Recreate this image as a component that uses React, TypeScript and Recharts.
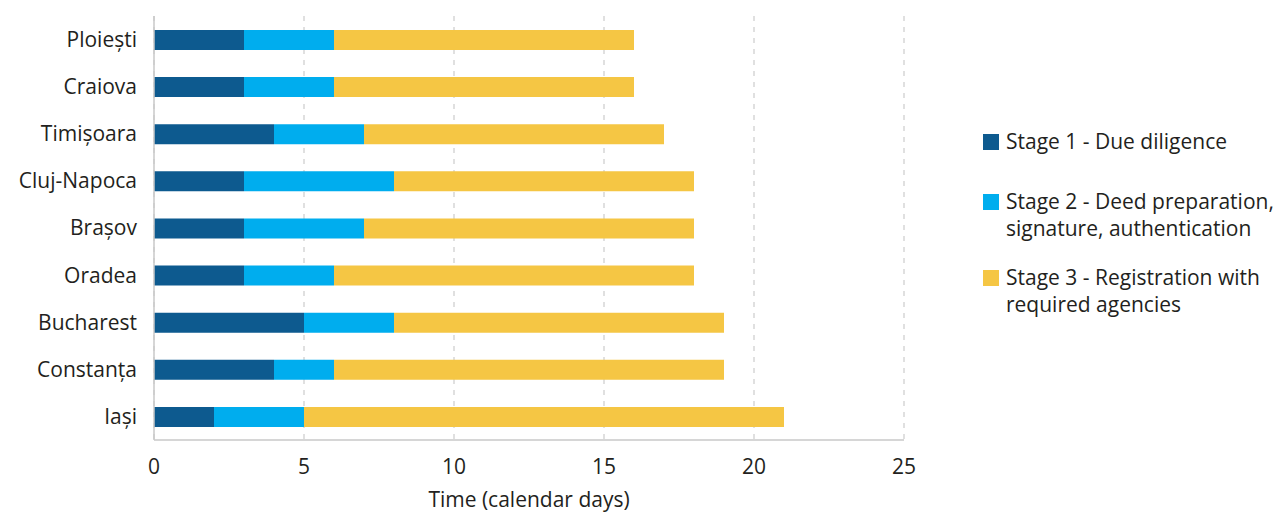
import { BarChart, Bar, XAxis, YAxis, CartesianGrid, Label } from 'recharts';

const cities = ['Ploiești', 'Craiova', 'Timișoara', 'Cluj-Napoca', 'Brașov', 'Oradea', 'Bucharest', 'Constanța', 'Iași'];
const stage1 = [3, 3, 4, 3, 3, 3, 5, 4, 2];
const stage2 = [3, 3, 3, 5, 4, 3, 3, 2, 3];
const stage3 = [10, 10, 10, 10, 11, 12, 11, 13, 16];
const xTicks = [0, 5, 10, 15, 20, 25];

const SERIES = [
    { key: 'stage1', color: '#0d5a8f', top: 128, lines: ['Stage 1 - Due diligence'] },
    { key: 'stage2', color: '#00adee', top: 188, lines: ['Stage 2 - Deed preparation,', 'signature, authentication'] },
    { key: 'stage3', color: '#f5c644', top: 264, lines: ['Stage 3 - Registration with', 'required agencies'] },
];

const FONT = '"Open Sans", "Noto Sans", sans-serif';
const TEXT = '#231f20';
const FONT_SIZE = 21;

const data = cities.map((city, i) => ({
    city,
    stage1: stage1[i],
    stage2: stage2[i],
    stage3: stage3[i],
}));

// legend sits to the right of the plot, outside the chart's layout
const StageLegend = () => (
    <>
        {SERIES.map((s) => (
            <div
                key={s.key}
                style={{
                    position: 'absolute',
                    left: 983,
                    top: s.top,
                    display: 'flex',
                    alignItems: 'flex-start',
                    fontFamily: FONT,
                    fontSize: FONT_SIZE,
                    color: TEXT,
                    lineHeight: '27px',
                }}
            >
                <div style={{ width: 16, height: 16, background: s.color, marginTop: 6, marginRight: 7, flexShrink: 0 }} />
                <div>
                    {s.lines.map((l) => (
                        <div key={l} style={{ whiteSpace: 'nowrap' }}>{l}</div>
                    ))}
                </div>
            </div>
        ))}
    </>
);

export default function App() {
    return (
        <div style={{ position: 'absolute', left: 0, top: 0, width: 1282, height: 512 }}>
            <BarChart
                width={1282}
                height={512}
                data={data}
                layout="vertical"
                margin={{ top: 16, right: 378, bottom: 0, left: 0 }}
                barSize={20}
            >
                <CartesianGrid horizontal={false} stroke="#d6d6d6" strokeDasharray="5 6" strokeWidth={1.5} />
                <XAxis
                    type="number"
                    domain={[0, 25]}
                    ticks={xTicks}
                    tickLine={false}
                    tickMargin={13}
                    axisLine={{ stroke: '#c8c8c8', strokeWidth: 1.5 }}
                    tick={{ fill: TEXT, fontSize: FONT_SIZE, fontFamily: FONT }}
                    height={72}
                >
                    <Label
                        value="Time (calendar days)"
                        position="insideBottom"
                        offset={5}
                        style={{ fill: TEXT, fontSize: FONT_SIZE, fontFamily: FONT }}
                    />
                </XAxis>
                <YAxis
                    type="category"
                    dataKey="city"
                    width={154}
                    tickLine={false}
                    tickMargin={11}
                    axisLine={{ stroke: '#c8c8c8', strokeWidth: 1.5 }}
                    tick={{ fill: TEXT, fontSize: FONT_SIZE, fontFamily: FONT }}
                />
                {SERIES.map((s) => (
                    <Bar key={s.key} dataKey={s.key} stackId="a" fill={s.color} isAnimationActive={false} />
                ))}
            </BarChart>
            <StageLegend />
        </div>
    );
}
